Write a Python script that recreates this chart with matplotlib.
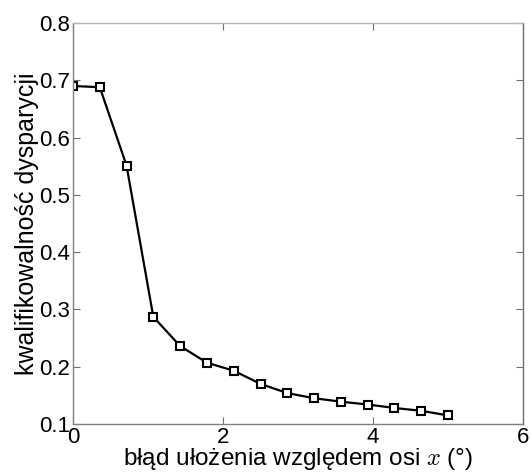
import matplotlib
matplotlib.use("Agg")
import matplotlib.pyplot as plt

x_vals = [0.0, 0.357, 0.714, 1.071, 1.429, 1.786, 2.143, 2.5, 2.857, 3.214, 3.571, 3.929, 4.286, 4.643, 5.0]
y_vals = [0.690, 0.688, 0.551, 0.287, 0.236, 0.207, 0.193, 0.170, 0.154, 0.145, 0.139, 0.134, 0.128, 0.123, 0.115]
x_ticks = [0, 2, 4, 6]
y_ticks = [0.1, 0.2, 0.3, 0.4, 0.5, 0.6, 0.7, 0.8]
x_label = "błąd ułożenia względem osi $x$ (°)"
y_label = "kwalifikowalność dysparycji"

plt.rcParams['font.family'] = ['Liberation Sans', 'DejaVu Sans']
plt.rcParams['mathtext.fontset'] = 'cm'

fig = plt.figure(figsize=(5.31, 4.76), dpi=100)
ax = fig.add_axes([73/531, 52/476, 450/531, 401/476])

ax.plot(x_vals, y_vals, color='black', linewidth=1.6, marker='s', markersize=6,
        markerfacecolor='white', markeredgecolor='black', markeredgewidth=1.5)

ax.set_xlim(0, 6)
ax.set_ylim(0.1, 0.8)
ax.set_xticks(x_ticks)
ax.set_yticks(y_ticks)
ax.set_xticklabels([str(v) for v in x_ticks])
ax.set_yticklabels([f"{v:.1f}" for v in y_ticks])
ax.tick_params(direction='in', top=True, right=True, length=5, width=0.8,
               color='#707070', labelsize=16, pad=2)

for side, col in [('left', '#808080'), ('bottom', '#808080'), ('top', '#b4b4b4'), ('right', '#707070')]:
    ax.spines[side].set_color(col)
    ax.spines[side].set_linewidth(1.0)

ax.set_xlabel(x_label, fontsize=17.5, labelpad=-1)
ax.set_ylabel(y_label, fontsize=18, labelpad=0)

fig.savefig("out.png", dpi=100)
